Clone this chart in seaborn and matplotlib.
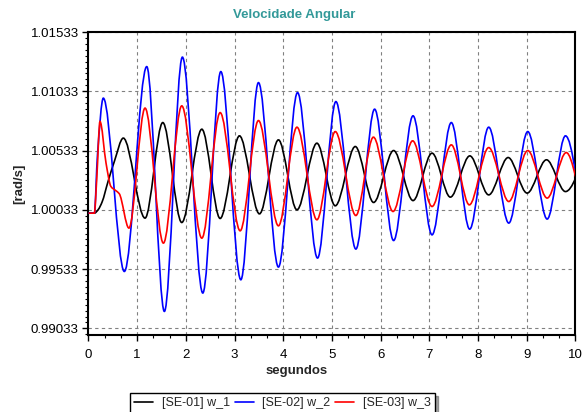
import numpy as np
import matplotlib
matplotlib.use("Agg")
import matplotlib.pyplot as plt
from matplotlib.path import Path
from matplotlib.patches import PathPatch
from matplotlib.lines import Line2D
from matplotlib.ticker import FixedLocator, MultipleLocator, FormatStrFormatter
import seaborn as sns

# ---------------- data ----------------
series_labels = ["[SE-01] w_1", "[SE-02] w_2", "[SE-03] w_3"]
series_colors = ["black", "#0000ff", "#ff0000"]

t_w1 = [0, 0.12, 0.20, 0.28, 0.40, 0.53, 0.715, 1.161, 1.525, 1.915, 2.327, 2.703,
        3.10, 3.51, 3.90, 4.28, 4.69, 5.067, 5.478, 5.854, 6.265, 6.664, 7.054,
        7.43, 7.83, 8.218, 8.617, 9.007, 9.404, 9.794, 10.0]
v_w1 = [1.00005, 1.00005, 1.00035, 1.00100, 1.00270, 1.00440, 1.00638, 0.99963,
        1.00769, 0.99926, 1.00713, 0.99960, 1.00657, 0.99999, 1.00623, 1.00033,
        1.00595, 1.00067, 1.00567, 1.00095, 1.00533, 1.00111, 1.00511, 1.00140,
        1.00488, 1.00159, 1.00474, 1.00174, 1.00455, 1.00187, 1.00300]

t_w2 = [0, 0.12, 0.185, 0.304, 0.736, 1.196, 1.558, 1.928, 2.347, 2.717, 3.128,
        3.49, 3.90, 4.292, 4.703, 5.08, 5.49, 5.875, 6.265, 6.664, 7.054, 7.45,
        7.827, 8.218, 8.63, 9.02, 9.418, 9.794, 10.0]
v_w2 = [1.00005, 1.00005, 1.00500, 1.00975, 0.99513, 1.01241, 0.99176, 1.01321,
        0.99331, 1.01199, 0.99443, 1.01106, 0.99550, 1.01022, 0.99626, 1.00946,
        0.99702, 1.00882, 0.99774, 1.00826, 0.99822, 1.00769, 0.99870, 1.00730,
        0.99921, 1.00693, 0.99955, 1.00657, 1.00342]

t_w3 = [0, 0.12, 0.17, 0.236, 0.36, 0.46, 0.56, 0.63, 0.83, 1.161, 1.538, 1.915,
        2.327, 2.703, 3.114, 3.49, 3.90, 4.28, 4.69, 5.067, 5.49, 5.85, 6.253,
        6.656, 7.054, 7.45, 7.82, 8.218, 8.63, 9.02, 9.418, 9.81, 10.0]
v_w3 = [1.00005, 1.00005, 1.00300, 1.00778, 1.00427, 1.00230, 1.00195, 1.00170,
        0.99879, 1.00891, 0.99752, 1.00910, 0.99794, 1.00853, 0.99856, 1.00786,
        0.99898, 1.00730, 0.99949, 1.00693, 0.99985, 1.00646, 1.00019, 1.00615,
        1.00061, 1.00581, 1.00075, 1.00558, 1.00103, 1.00533, 1.00132, 1.00516,
        1.00314]

y_ticks = [0.99033, 0.99533, 1.00033, 1.00533, 1.01033, 1.01533]
x_ticks = [0, 1, 2, 3, 4, 5, 6, 7, 8, 9, 10]

title_text = "Velocidade Angular"
x_label = "segundos"
y_label = "[rad/s]"

# ---------------- helpers: smooth (monotone cubic) curve through points ----------------
def pchip_slopes(x, y):
    x = np.asarray(x, float); y = np.asarray(y, float)
    h = np.diff(x); d = np.diff(y) / h
    n = len(x); m = np.zeros(n)
    for k in range(1, n - 1):
        if d[k - 1] * d[k] <= 0:
            m[k] = 0.0
        else:
            w1 = 2 * h[k] + h[k - 1]; w2 = h[k] + 2 * h[k - 1]
            m[k] = (w1 + w2) / (w1 / d[k - 1] + w2 / d[k])
    def end(h0, h1, d0, d1):
        s = ((2 * h0 + h1) * d0 - h0 * d1) / (h0 + h1)
        if np.sign(s) != np.sign(d0):
            s = 0.0
        elif np.sign(d0) != np.sign(d1) and abs(s) > abs(3 * d0):
            s = 3 * d0
        return s
    m[0] = end(h[0], h[1], d[0], d[1])
    m[-1] = end(h[-1], h[-2], d[-1], d[-2])
    return m

def smooth_path(x, y):
    x = np.asarray(x, float); y = np.asarray(y, float)
    m = pchip_slopes(x, y)
    verts = [(x[0], y[0])]; codes = [Path.MOVETO]
    for k in range(len(x) - 1):
        h = x[k + 1] - x[k]
        verts += [(x[k] + h / 3, y[k] + m[k] * h / 3),
                  (x[k + 1] - h / 3, y[k + 1] - m[k + 1] * h / 3),
                  (x[k + 1], y[k + 1])]
        codes += [Path.CURVE4] * 3
    return Path(verts, codes)

# ---------------- figure ----------------
sns.set_style("white")
plt.rcParams['font.family'] = ['Liberation Sans', 'DejaVu Sans']

fig = plt.figure(figsize=(5.85, 4.12), dpi=100)
ax = fig.add_axes([0.15128, 0.18689, 0.83248, 0.73544])

all_t = [t_w1, t_w2, t_w3]
all_v = [v_w1, v_w2, v_w3]
for t, v, c in zip(all_t, all_v, series_colors):
    ax.add_patch(PathPatch(smooth_path(t, v), fill=False, edgecolor=c,
                           linewidth=1.2, zorder=3))

ax.set_xlim(0, 10)
ax.set_ylim(0.98977, 1.01533)

ax.xaxis.set_major_locator(FixedLocator(x_ticks))
ax.xaxis.set_minor_locator(MultipleLocator(1 / 3))
ax.yaxis.set_major_locator(FixedLocator(y_ticks))
ax.yaxis.set_minor_locator(FixedLocator([0.98983 + 0.0005 * k for k in range(52)]))
ax.yaxis.set_major_formatter(FormatStrFormatter('%.5f'))

ax.grid(True, which='major', color='#808080', linestyle=(0, (3, 3)), linewidth=0.8)
ax.set_axisbelow(True)

for sp in ax.spines.values():
    sp.set_visible(True)
    sp.set_color('black')
    sp.set_linewidth(1.5)

ax.tick_params(axis='both', which='major', direction='out', length=4, width=1,
               labelsize=9.5, colors='black', pad=3)
ax.tick_params(axis='both', which='minor', direction='out', length=2.5, width=0.8,
               colors='black')
ax.tick_params(axis='x', which='both', bottom=True)
ax.tick_params(axis='y', which='both', left=True)
ax.tick_params(axis='x', which='major', pad=6)

ax.set_xlabel(x_label, fontsize=9.5, fontweight='bold')
ax.xaxis.set_label_coords(0.428, -0.119)
ax.xaxis.label.set_va('center')
ax.set_ylabel(y_label, fontsize=9.5, fontweight='bold')
ax.yaxis.set_label_coords(-0.143, 0.5)
ax.yaxis.label.set_va('center')

fig.text(0.5026, 0.9636, title_text, color='#339999', fontweight='bold',
         fontsize=9.5, ha='center', va='center')

handles = [Line2D([], [], color=c, linewidth=1.2) for c in series_colors]
leg = fig.legend(handles, series_labels, loc='upper center',
                 bbox_to_anchor=(0.483, 0.046), ncol=3, frameon=True,
                 fancybox=False, shadow=True, edgecolor='black', fontsize=9,
                 handlelength=1.5, handletextpad=0.7, columnspacing=0.4,
                 borderpad=0.35, borderaxespad=0.0, framealpha=1)
leg.get_frame().set_linewidth(1.0)

fig.savefig("out.png", dpi=100)
